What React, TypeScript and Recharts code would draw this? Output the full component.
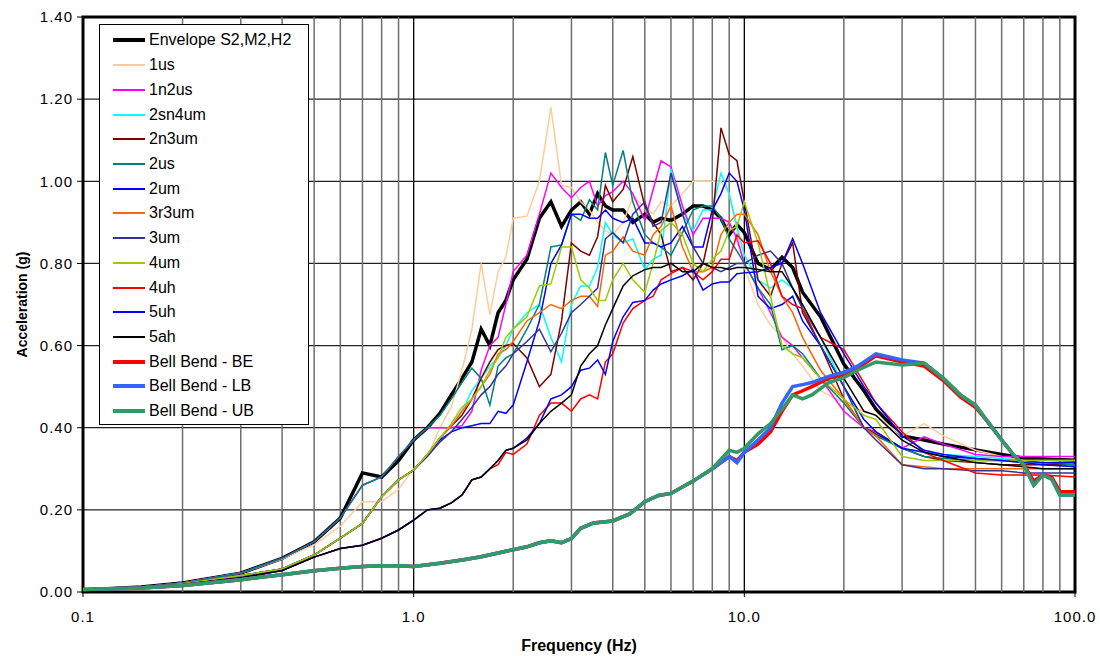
import React from 'react';
import { LineChart, Line, XAxis, YAxis, CartesianGrid, ReferenceLine, ReferenceArea } from 'recharts';

// frequency grid (Hz) shared by the recorded spectra
const FREQ = [
  0.1, 0.15, 0.2, 0.3, 0.4, 0.5, 0.6, 0.7, 0.8, 0.9,
  1.0, 1.1, 1.2, 1.3, 1.4, 1.5, 1.6, 1.7, 1.8, 1.9,
  2.0, 2.2, 2.4, 2.6, 2.8, 3.0, 3.2, 3.4, 3.6, 3.8,
  4.0, 4.3, 4.6, 5.0, 5.3, 5.6, 6.0, 6.5, 7.0, 7.5,
  8.0, 8.5, 9.0, 9.5, 10, 11, 12, 13, 14, 15,
  17, 20, 23, 25, 30, 35, 40, 50, 60, 70, 80, 100,
];

const envelope = [
  0.005, 0.012, 0.022, 0.046, 0.082, 0.122, 0.18, 0.29, 0.28, 0.32,
  0.37, 0.40, 0.435, 0.48, 0.52, 0.56, 0.64, 0.60, 0.68, 0.71,
  0.76, 0.81, 0.91, 0.95, 0.89, 0.93, 0.95, 0.92, 0.97, 0.94,
  0.93, 0.93, 0.90, 0.92, 0.90, 0.91, 0.905, 0.92, 0.94, 0.94,
  0.93, 0.91, 0.87, 0.895, 0.875, 0.80, 0.785, 0.815, 0.79, 0.73,
  0.67, 0.555, 0.49, 0.445, 0.38, 0.37, 0.36, 0.346, 0.335, 0.326, 0.324, 0.321,
];
const us1 = [
  0.005, 0.012, 0.022, 0.046, 0.08, 0.115, 0.16, 0.22, 0.22, 0.25,
  0.30, 0.33, 0.40, 0.45, 0.54, 0.64, 0.80, 0.675, 0.78, 0.815,
  0.91, 0.915, 1.0, 1.18, 0.99, 0.985, 0.95, 0.93, 0.90, 0.88,
  0.87, 0.90, 0.96, 0.94, 0.92, 0.95, 0.94, 0.97, 1.0, 1.0,
  1.0, 1.0, 0.97, 0.88, 0.79, 0.70, 0.65, 0.62, 0.58, 0.55,
  0.49, 0.46, 0.44, 0.43, 0.38, 0.41, 0.38, 0.345, 0.33, 0.32, 0.315, 0.31,
];
const n2us1 = [
  0.005, 0.012, 0.022, 0.046, 0.082, 0.122, 0.18, 0.26, 0.28, 0.33,
  0.37, 0.40, 0.40, 0.40, 0.405, 0.44, 0.54, 0.60, 0.62, 0.70,
  0.78, 0.82, 0.92, 1.02, 0.985, 0.96, 0.985, 1.0, 0.94, 0.965,
  0.975, 1.0, 0.97, 0.905, 0.98, 1.05, 1.035, 0.94, 0.87, 0.91,
  0.91, 0.91, 0.90, 0.86, 0.80, 0.74, 0.68, 0.62, 0.60, 0.57,
  0.52, 0.44, 0.40, 0.39, 0.35, 0.378, 0.36, 0.335, 0.33, 0.33, 0.33, 0.33,
];
const sn4um2 = [
  0.005, 0.01, 0.02, 0.04, 0.056, 0.09, 0.131, 0.167, 0.232, 0.273,
  0.297, 0.334, 0.375, 0.404, 0.44, 0.49, 0.52, 0.55, 0.57, 0.60,
  0.64, 0.68, 0.70, 0.62, 0.56, 0.70, 0.745, 0.745, 0.79, 0.90,
  0.87, 0.85, 0.86, 0.785, 0.81, 0.82, 1.03, 0.92, 0.88, 0.93,
  0.93, 1.02, 0.97, 0.89, 0.82, 0.76, 0.74, 0.76, 0.74, 0.70,
  0.62, 0.50, 0.40, 0.38, 0.35, 0.34, 0.335, 0.33, 0.325, 0.32, 0.32, 0.32,
];
const n3um2 = [
  0.005, 0.01, 0.02, 0.04, 0.056, 0.09, 0.131, 0.167, 0.232, 0.273,
  0.297, 0.334, 0.375, 0.404, 0.43, 0.47, 0.52, 0.56, 0.59, 0.60,
  0.605, 0.57, 0.50, 0.53, 0.66, 0.85, 0.83, 0.82, 0.865, 0.99,
  0.95, 0.98, 1.06, 0.94, 0.90, 0.87, 0.78, 0.79, 0.76, 0.80,
  0.90, 1.13, 1.065, 1.05, 0.95, 0.76, 0.72, 0.80, 0.85, 0.68,
  0.60, 0.47, 0.40, 0.385, 0.35, 0.33, 0.32, 0.315, 0.31, 0.31, 0.31, 0.31,
];
const us2 = [
  0.005, 0.012, 0.022, 0.046, 0.082, 0.122, 0.18, 0.26, 0.28, 0.33,
  0.37, 0.40, 0.43, 0.47, 0.51, 0.545, 0.52, 0.455, 0.55, 0.57,
  0.58, 0.64, 0.70, 0.84, 0.845, 0.92, 0.905, 0.955, 0.93, 1.07,
  0.99, 1.075, 0.95, 0.87, 0.85, 0.84, 0.82, 0.875, 0.93, 0.94,
  0.94, 0.91, 0.86, 0.83, 0.80, 0.74, 0.70, 0.59, 0.60, 0.58,
  0.52, 0.46, 0.40, 0.38, 0.35, 0.33, 0.325, 0.32, 0.32, 0.315, 0.315, 0.31,
];
const um2 = [
  0.005, 0.01, 0.02, 0.04, 0.056, 0.09, 0.131, 0.167, 0.232, 0.273,
  0.297, 0.334, 0.37, 0.39, 0.40, 0.405, 0.41, 0.41, 0.44, 0.435,
  0.455, 0.56, 0.66, 0.80, 0.845, 0.92, 0.92, 0.91, 0.91, 0.93,
  0.91, 0.90, 0.91, 0.85, 0.85, 0.84, 0.85, 0.89, 0.84, 0.84,
  0.93, 0.97, 1.02, 1.0, 0.93, 0.72, 0.69, 0.70, 0.72, 0.66,
  0.60, 0.50, 0.42, 0.39, 0.35, 0.34, 0.33, 0.325, 0.32, 0.32, 0.315, 0.315,
];
const r3um3 = [
  0.005, 0.01, 0.02, 0.04, 0.056, 0.09, 0.131, 0.167, 0.232, 0.273,
  0.297, 0.334, 0.375, 0.404, 0.44, 0.47, 0.50, 0.53, 0.58, 0.59,
  0.61, 0.66, 0.68, 0.70, 0.69, 0.71, 0.72, 0.72, 0.695, 0.82,
  0.83, 0.865, 0.83, 0.82, 0.87, 0.89, 0.94, 0.84, 0.78, 0.78,
  0.79, 0.87, 0.90, 0.92, 0.92, 0.87, 0.78, 0.72, 0.68, 0.62,
  0.54, 0.47, 0.40, 0.38, 0.31, 0.305, 0.30, 0.30, 0.30, 0.30, 0.30, 0.30,
];
const um3 = [
  0.005, 0.01, 0.02, 0.04, 0.056, 0.09, 0.131, 0.167, 0.232, 0.273,
  0.297, 0.33, 0.365, 0.39, 0.42, 0.45, 0.48, 0.50, 0.53, 0.55,
  0.58, 0.61, 0.64, 0.585, 0.63, 0.68, 0.70, 0.72, 0.74, 0.86,
  0.875, 0.85, 0.92, 0.95, 0.89, 0.90, 1.02, 0.92, 0.84, 0.80,
  0.79, 0.78, 0.79, 0.80, 0.80, 0.82, 0.83, 0.80, 0.74, 0.69,
  0.60, 0.50, 0.40, 0.37, 0.31, 0.30, 0.30, 0.295, 0.295, 0.29, 0.29, 0.29,
];
const um4 = [
  0.005, 0.01, 0.02, 0.04, 0.056, 0.09, 0.131, 0.167, 0.232, 0.273,
  0.297, 0.335, 0.375, 0.41, 0.45, 0.47, 0.50, 0.54, 0.57, 0.62,
  0.64, 0.67, 0.745, 0.75, 0.84, 0.84, 0.76, 0.74, 0.71, 0.71,
  0.76, 0.80, 0.76, 0.73, 0.80, 0.88, 0.90, 0.87, 0.80, 0.78,
  0.81, 0.83, 0.88, 0.89, 0.95, 0.85, 0.72, 0.60, 0.58, 0.57,
  0.52, 0.47, 0.43, 0.42, 0.33, 0.32, 0.32, 0.32, 0.32, 0.32, 0.32, 0.32,
];
const uh4 = [
  0.005, 0.01, 0.018, 0.035, 0.052, 0.085, 0.106, 0.114, 0.131, 0.151,
  0.175, 0.20, 0.204, 0.217, 0.236, 0.273, 0.28, 0.30, 0.31, 0.34,
  0.335, 0.36, 0.43, 0.46, 0.46, 0.44, 0.47, 0.48, 0.47, 0.56,
  0.58, 0.655, 0.69, 0.71, 0.72, 0.76, 0.775, 0.79, 0.78, 0.76,
  0.78, 0.81, 0.81, 0.87, 0.85, 0.855, 0.80, 0.72, 0.70, 0.69,
  0.62, 0.59, 0.51, 0.46, 0.39, 0.34, 0.32, 0.29, 0.285, 0.285, 0.285, 0.28,
];
const uh5 = [
  0.005, 0.01, 0.018, 0.035, 0.052, 0.085, 0.106, 0.114, 0.131, 0.151,
  0.175, 0.20, 0.204, 0.217, 0.236, 0.273, 0.28, 0.30, 0.32, 0.345,
  0.35, 0.375, 0.41, 0.47, 0.48, 0.50, 0.54, 0.545, 0.565, 0.53,
  0.61, 0.67, 0.705, 0.71, 0.735, 0.75, 0.76, 0.77, 0.785, 0.735,
  0.75, 0.755, 0.755, 0.775, 0.777, 0.78, 0.79, 0.80, 0.86, 0.80,
  0.68, 0.58, 0.50, 0.46, 0.38, 0.345, 0.335, 0.325, 0.32, 0.315, 0.31, 0.305,
];
const ah5 = [
  0.005, 0.01, 0.018, 0.035, 0.052, 0.085, 0.106, 0.114, 0.131, 0.151,
  0.175, 0.20, 0.204, 0.217, 0.236, 0.273, 0.28, 0.30, 0.32, 0.345,
  0.35, 0.37, 0.41, 0.44, 0.46, 0.48, 0.55, 0.58, 0.60, 0.65,
  0.69, 0.745, 0.77, 0.785, 0.79, 0.79, 0.80, 0.78, 0.78, 0.80,
  0.79, 0.79, 0.785, 0.79, 0.79, 0.785, 0.78, 0.78, 0.74, 0.70,
  0.62, 0.52, 0.44, 0.43, 0.37, 0.34, 0.33, 0.315, 0.31, 0.305, 0.30, 0.30,
];

// Bell Bend site spectra on their own frequency grid
const BB_FREQ = [
  0.1, 0.15, 0.2, 0.3, 0.4, 0.5, 0.6, 0.7, 0.8, 0.9,
  1.0, 1.2, 1.4, 1.6, 1.8, 2.0, 2.2, 2.4, 2.6, 2.8,
  3.0, 3.2, 3.5, 4.0, 4.5, 5.0, 5.5, 6.0, 7.0, 8.0,
  9.0, 9.5, 10, 11, 12, 13, 14, 15, 16, 18,
  20, 22, 25, 30, 35, 40, 45, 50, 55, 60,
  65, 70, 75, 80, 85, 90, 100,
];
const bbBE = [
  0.006, 0.01, 0.016, 0.03, 0.042, 0.052, 0.058, 0.062, 0.064, 0.064,
  0.062, 0.07, 0.078, 0.086, 0.095, 0.103, 0.11, 0.12, 0.125, 0.12,
  0.13, 0.155, 0.168, 0.173, 0.19, 0.22, 0.235, 0.24, 0.27, 0.30,
  0.33, 0.32, 0.34, 0.36, 0.39, 0.44, 0.48, 0.49, 0.50, 0.52,
  0.53, 0.545, 0.575, 0.56, 0.55, 0.515, 0.475, 0.45, 0.41, 0.37,
  0.335, 0.31, 0.27, 0.285, 0.28, 0.245, 0.244,
];
const bbLB = [
  0.006, 0.01, 0.016, 0.03, 0.042, 0.052, 0.058, 0.062, 0.064, 0.064,
  0.062, 0.07, 0.078, 0.086, 0.095, 0.103, 0.11, 0.12, 0.125, 0.12,
  0.13, 0.155, 0.168, 0.173, 0.19, 0.22, 0.235, 0.24, 0.27, 0.30,
  0.33, 0.315, 0.34, 0.37, 0.40, 0.46, 0.50, 0.505, 0.51, 0.525,
  0.535, 0.55, 0.58, 0.565, 0.557, 0.52, 0.48, 0.455, 0.41, 0.37,
  0.335, 0.31, 0.26, 0.285, 0.275, 0.236, 0.236,
];
const bbUB = [
  0.006, 0.01, 0.016, 0.03, 0.042, 0.052, 0.058, 0.062, 0.064, 0.064,
  0.062, 0.07, 0.078, 0.086, 0.095, 0.103, 0.11, 0.12, 0.125, 0.12,
  0.13, 0.155, 0.168, 0.173, 0.19, 0.22, 0.235, 0.24, 0.27, 0.30,
  0.345, 0.34, 0.35, 0.385, 0.41, 0.445, 0.48, 0.47, 0.48, 0.51,
  0.522, 0.54, 0.56, 0.553, 0.557, 0.52, 0.48, 0.455, 0.41, 0.37,
  0.335, 0.31, 0.26, 0.285, 0.275, 0.236, 0.236,
];

const X_TICKS = [0.1, 1, 10, 100];
const Y_TICKS = [0, 0.2, 0.4, 0.6, 0.8, 1.0, 1.2, 1.4];
const MINOR_GRID = [
  0.2, 0.3, 0.4, 0.5, 0.6, 0.7, 0.8, 0.9,
  2, 3, 4, 5, 6, 7, 8, 9,
  20, 30, 40, 50, 60, 70, 80, 90,
];
const MAJOR_GRID = [1, 10];

const SERIES = [
  { key: 'env', name: 'Envelope S2,M2,H2', color: '#000000', width: 3.5, values: envelope },
  { key: 'us1', name: '1us', color: '#FFCC99', width: 1.5, values: us1 },
  { key: 'n2us1', name: '1n2us', color: '#FF00FF', width: 1.5, values: n2us1 },
  { key: 'sn4um2', name: '2sn4um', color: '#00FFFF', width: 1.5, values: sn4um2 },
  { key: 'n3um2', name: '2n3um', color: '#800000', width: 1.5, values: n3um2 },
  { key: 'us2', name: '2us', color: '#008080', width: 1.5, values: us2 },
  { key: 'um2', name: '2um', color: '#0000FF', width: 1.5, values: um2 },
  { key: 'r3um3', name: '3r3um', color: '#FF6600', width: 1.5, values: r3um3 },
  { key: 'um3', name: '3um', color: '#333399', width: 1.5, values: um3 },
  { key: 'um4', name: '4um', color: '#99CC00', width: 1.5, values: um4 },
  { key: 'uh4', name: '4uh', color: '#FF0000', width: 1.5, values: uh4 },
  { key: 'uh5', name: '5uh', color: '#0000FF', width: 1.5, values: uh5 },
  { key: 'ah5', name: '5ah', color: '#000000', width: 1.5, values: ah5 },
];

const BB_SERIES = [
  { key: 'bbBE', name: 'Bell Bend - BE', color: '#FF0000', width: 3.5, values: bbBE },
  { key: 'bbLB', name: 'Bell Bend - LB', color: '#3366FF', width: 3.5, values: bbLB },
  { key: 'bbUB', name: 'Bell Bend - UB', color: '#339966', width: 3.5, values: bbUB },
];

const rows = FREQ.map((f, i) => {
  const row: Record<string, number> = { f };
  SERIES.forEach((s) => { row[s.key] = s.values[i]; });
  return row;
});

const bbRows = BB_FREQ.map((f, i) => {
  const row: Record<string, number> = { f };
  BB_SERIES.forEach((s) => { row[s.key] = s.values[i]; });
  return row;
});

const FONT = '"Liberation Sans", Arial, sans-serif';

const LegendBox = () => {
  const all = [...SERIES, ...BB_SERIES];
  return (
    <div
      style={{
        position: 'absolute', left: 99, top: 24, width: 210, height: 401,
        boxSizing: 'border-box', border: '1px solid #000', background: '#fff',
        paddingTop: 3, fontFamily: FONT, fontSize: 16, color: '#000',
      }}
    >
      {all.map((s) => (
        <div key={s.key} style={{ display: 'flex', alignItems: 'center', height: 24.73 }}>
          <div style={{ width: 32, height: s.width > 2 ? 4 : 2, background: s.color, marginLeft: 13, marginRight: 4 }} />
          <span style={{ whiteSpace: 'nowrap' }}>{s.name}</span>
        </div>
      ))}
    </div>
  );
};

const App: React.FC = () => {
  return (
    <div style={{ position: 'absolute', left: 0, top: 0, width: 1100, height: 656, background: '#fff' }}>
      <LineChart width={1100} height={656} data={rows} margin={{ top: 17, right: 25, bottom: 34, left: 23 }}>
        <CartesianGrid vertical={false} stroke="#222222" strokeWidth={1.2} />
        {MINOR_GRID.map((f) => (
          <ReferenceLine key={`g${f}`} x={f} stroke="#6e6e6e" strokeWidth={1.5} />
        ))}
        {MAJOR_GRID.map((f) => (
          <ReferenceLine key={`G${f}`} x={f} stroke="#000000" strokeWidth={1.3} />
        ))}
        <XAxis
          dataKey="f"
          type="number"
          scale="log"
          domain={[0.1, 100]}
          allowDataOverflow
          ticks={X_TICKS}
          tickFormatter={(v: number) => (v < 1 ? String(v) : v.toFixed(1))}
          axisLine={false}
          tickLine={{ stroke: '#000' }}
          tickSize={5}
          tickMargin={14}
          height={30}
          tick={{ fill: '#000', fontSize: 15, fontFamily: FONT, letterSpacing: 1 }}
          label={{ value: 'Frequency (Hz)', position: 'bottom', offset: 18, style: { fontWeight: 'bold', fontSize: 16, fontFamily: FONT, fill: '#000' } }}
        />
        <YAxis
          type="number"
          domain={[0, 1.4]}
          ticks={Y_TICKS}
          tickFormatter={(v: number) => v.toFixed(2)}
          axisLine={false}
          tickLine={{ stroke: '#000' }}
          tickSize={6}
          tickMargin={4}
          width={60}
          tick={{ fill: '#000', fontSize: 15, fontFamily: FONT, letterSpacing: 1 }}
          label={{ value: 'Acceleration (g)', angle: -90, position: 'insideLeft', offset: -1, style: { textAnchor: 'middle', fontWeight: 'bold', fontSize: 14, fontFamily: FONT, fill: '#000' } }}
        />
        {SERIES.map((s) => (
          <Line
            key={s.key}
            type="linear"
            dataKey={s.key}
            name={s.name}
            stroke={s.color}
            strokeWidth={s.width}
            dot={false}
            activeDot={false}
            isAnimationActive={false}
          />
        ))}
        {BB_SERIES.map((s) => (
          <Line
            key={s.key}
            type="linear"
            data={bbRows}
            dataKey={s.key}
            name={s.name}
            stroke={s.color}
            strokeWidth={s.width}
            dot={false}
            activeDot={false}
            isAnimationActive={false}
          />
        ))}
        <ReferenceArea x1={0.1} x2={100} y1={0} y2={1.4} fill="none" stroke="#000" strokeWidth={3} fillOpacity={0} />
      </LineChart>
      <LegendBox />
    </div>
  );
};

export default App;
